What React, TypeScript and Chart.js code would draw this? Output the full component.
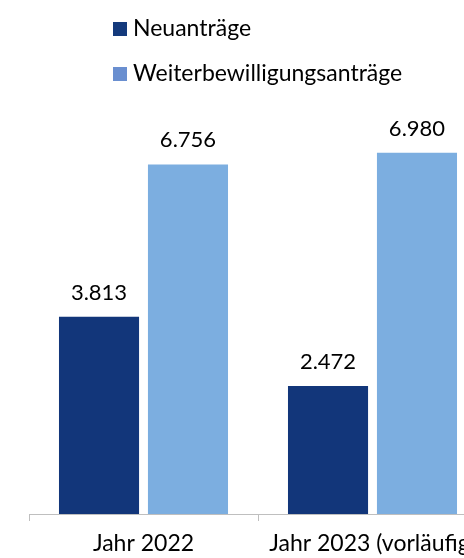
import { useEffect, useRef } from "react";
import { Chart, registerables } from "chart.js";

Chart.register(...registerables);

const categories = ["Jahr 2022", "Jahr 2023 (vorläufig)"];
const seriesNames = ["Neuanträge", "Weiterbewilligungsanträge"];
const neuantraege = [3813, 2472];
const weiterbewilligungsantraege = [6756, 6980];
const barColors = ["#12367A", "#7CAEE0"];
const legendColors = ["#143A7C", "#6A8FD0"];
const yMax = 8000;

const FONT = "Lato, 'Open Sans', sans-serif";
const FONT_SIZE = 23;
const VALUE_FONT_SIZE = 22;

function fmt(v: number): string {
  return String(v).replace(/\B(?=(\d{3})+(?!\d))/g, ".");
}

const valueLabels = {
  id: "valueLabels",
  afterDatasetsDraw(chart: any) {
    const ctx = chart.ctx;
    ctx.save();
    ctx.font = `${VALUE_FONT_SIZE}px ${FONT}`;
    ctx.fillStyle = "#000";
    ctx.textAlign = "center";
    ctx.textBaseline = "alphabetic";
    chart.data.datasets.forEach((ds: any, di: number) => {
      const meta = chart.getDatasetMeta(di);
      meta.data.forEach((el: any, i: number) => {
        ctx.fillText(fmt(ds.data[i]), el.x, el.y - 17);
      });
    });
    ctx.restore();
  },
};

const customLegend = {
  id: "customLegend",
  afterDraw(chart: any) {
    const ctx = chart.ctx;
    ctx.save();
    ctx.font = `${FONT_SIZE}px ${FONT}`;
    ctx.textAlign = "left";
    ctx.textBaseline = "middle";
    chart.data.datasets.forEach((ds: any, di: number) => {
      const cy = 29 + di * 45;
      ctx.fillStyle = legendColors[di];
      ctx.fillRect(113, cy - 7, 14, 14);
      ctx.fillStyle = "#000";
      ctx.fillText(ds.label, 133, cy);
    });
    ctx.restore();
  },
};

export default function App() {
  const ref = useRef<HTMLCanvasElement>(null);
  useEffect(() => {
    if (!ref.current) return;
    const chart = new Chart(ref.current, {
      type: "bar",
      data: {
        labels: categories,
        datasets: [
          {
            label: seriesNames[0],
            data: neuantraege,
            backgroundColor: barColors[0],
            barPercentage: 0.9,
            categoryPercentage: 0.777,
          },
          {
            label: seriesNames[1],
            data: weiterbewilligungsantraege,
            backgroundColor: barColors[1],
            barPercentage: 0.9,
            categoryPercentage: 0.777,
          },
        ],
      },
      options: {
        responsive: false,
        animation: false,
        layout: { padding: { left: 29, right: 3, top: 100, bottom: 0 } },
        plugins: {
          legend: { display: false },
          tooltip: { enabled: false },
        },
        scales: {
          x: {
            afterFit: (scale: any) => {
              scale.height = 44;
            },
            grid: {
              display: true,
              drawOnChartArea: false,
              drawTicks: true,
              tickLength: 7,
              color: "#BFBFBF",
              offset: true,
            },
            border: { display: true, color: "#BFBFBF", width: 1 },
            ticks: {
              color: "#000",
              font: { family: FONT, size: FONT_SIZE },
              padding: 9,
              maxRotation: 0,
              autoSkip: false,
            },
          },
          y: {
            display: false,
            min: 0,
            max: yMax,
          },
        },
      },
      plugins: [valueLabels, customLegend],
    });
    return () => chart.destroy();
  }, []);
  return (
    <div
      style={{
        position: "absolute",
        left: 0,
        top: 0,
        width: 464,
        height: 558,
        overflow: "hidden",
        background: "#fff",
      }}
    >
      <canvas ref={ref} width={490} height={558} style={{ display: "block" }} />
    </div>
  );
}
